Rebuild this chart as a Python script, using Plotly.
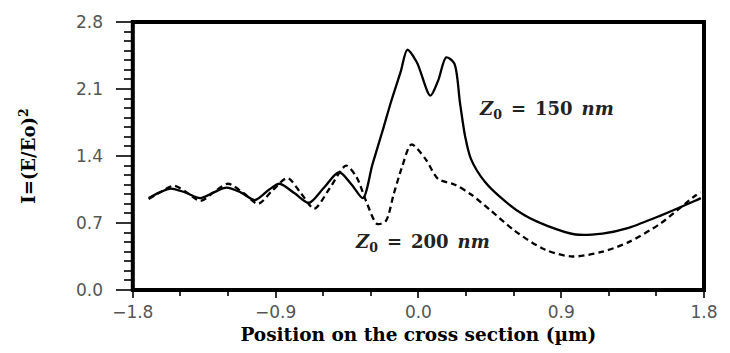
import plotly.graph_objects as go

# Data
x_solid = [-1.70, -1.63, -1.56, -1.47, -1.375, -1.29, -1.21, -1.12, -1.03, -0.94, -0.875, -0.78, -0.69, -0.60,
           -0.50, -0.42, -0.35, -0.29, -0.23, -0.17, -0.11, -0.07, -0.01, 0.075, 0.125, 0.175, 0.225, 0.2625,
           0.294, 0.331, 0.419, 0.544, 0.669, 0.8125, 0.99, 1.16, 1.325, 1.53, 1.74, 1.78]
y_solid = [0.96, 1.02, 1.06, 1.02, 0.96, 1.02, 1.07, 1.02, 0.94, 1.05, 1.11, 1.01, 0.91, 1.06,
           1.23, 1.10, 0.96, 1.31, 1.64, 1.98, 2.29, 2.51, 2.38, 2.03, 2.19, 2.43, 2.37, 1.95,
           1.61, 1.37, 1.13, 0.93, 0.78, 0.67, 0.58, 0.59, 0.65, 0.78, 0.93, 0.96]

x_dash = [-1.70, -1.62, -1.54, -1.46, -1.375, -1.29, -1.20, -1.10, -1.01, -0.92, -0.825, -0.74, -0.656, -0.56,
          -0.456, -0.39, -0.33, -0.26, -0.206, -0.156, -0.106, -0.044, 0.044, 0.125, 0.23, 0.33, 0.456, 0.606,
          0.80, 0.97, 1.16, 1.325, 1.53, 1.74, 1.78]
y_dash = [0.95, 1.03, 1.09, 1.02, 0.93, 1.02, 1.11, 1.01, 0.90, 1.04, 1.17, 1.01, 0.85, 1.06,
          1.30, 1.18, 0.93, 0.69, 0.72, 1.00, 1.27, 1.52, 1.37, 1.16, 1.10, 1.00, 0.83, 0.62,
          0.42, 0.35, 0.40, 0.50, 0.70, 0.98, 1.02]

x_ticks = [-1.8, -0.9, 0.0, 0.9, 1.8]
y_ticks = [0.0, 0.7, 1.4, 2.1, 2.8]

label_150 = "<i>Z</i><sub>0</sub>\u2002=\u2002150\u2002<i>nm</i>"
label_200 = "<i>Z</i><sub>0</sub>\u2002=\u2002200\u2002<i>nm</i>"
x_title = "<b>Position on the cross section (µm)</b>"
y_title = "<b>I=(E/Eo)<sup>2</sup></b>"

fig = go.Figure()
fig.add_trace(go.Scatter(x=x_solid, y=y_solid, mode="lines",
                         line=dict(color="black", width=2.3, shape="spline", smoothing=0.8),
                         showlegend=False, hoverinfo="skip"))
fig.add_trace(go.Scatter(x=x_dash, y=y_dash, mode="lines",
                         line=dict(color="black", width=2.3, dash="6px,4px", shape="spline", smoothing=0.8),
                         showlegend=False, hoverinfo="skip"))
# empty trace so the label axis is drawn
fig.add_trace(go.Scatter(x=[None], y=[None], yaxis="y2", showlegend=False, hoverinfo="skip"))

ann_font = dict(family="DejaVu Serif", size=18, color="#222222", weight="bold")
fig.add_annotation(x=0.37, y=1.88, text=label_150, showarrow=False, xanchor="left", font=ann_font)
fig.add_annotation(x=-0.41, y=0.49, text=label_200, showarrow=False, xanchor="left", font=ann_font)

# thick frame around the plotting area
fig.add_shape(type="rect", xref="x domain", yref="y domain", x0=0, x1=1, y0=0, y1=1,
              line=dict(color="black", width=4), layer="above")

tickfont = dict(family="DejaVu Sans", size=17, color="#555555")
fig.update_layout(
    xaxis=dict(domain=[30 / 605, 1], range=[-1.8, 1.8], tickvals=x_ticks, tickformat=".1f",
               showgrid=False, zeroline=False, showline=False,
               ticks="outside", ticklen=7, tickwidth=2, tickcolor="#333333",
               minor=dict(dtick=0.3, tick0=-1.8, ticks="outside", ticklen=5, tickwidth=2, tickcolor="#333333"),
               tickfont=tickfont,
               title=dict(text=x_title, standoff=6,
                          font=dict(family="DejaVu Serif", size=18.5, color="black"))),
    # main y axis: tick marks only
    yaxis=dict(range=[0, 2.8], tickvals=y_ticks, showticklabels=False, showgrid=False,
               zeroline=False, showline=False,
               ticks="outside", ticklen=16, tickwidth=2, tickcolor="#333333",
               minor=dict(dtick=0.1, tick0=0, ticks="outside", ticklen=8, tickwidth=2, tickcolor="#333333")),
    # label axis sitting a little left of the frame
    yaxis2=dict(range=[0, 2.8], tickvals=y_ticks, tickformat=".1f", overlaying="y",
                anchor="free", position=0, side="left", showgrid=False, zeroline=False, showline=False,
                ticks="", tickfont=tickfont,
                title=dict(text=y_title, standoff=34,
                           font=dict(family="DejaVu Serif", size=18, color="black"))),
    width=730, height=353, margin=dict(l=103, r=22, t=17, b=62),
    plot_bgcolor="white", paper_bgcolor="white")

fig.write_html("out.html")
